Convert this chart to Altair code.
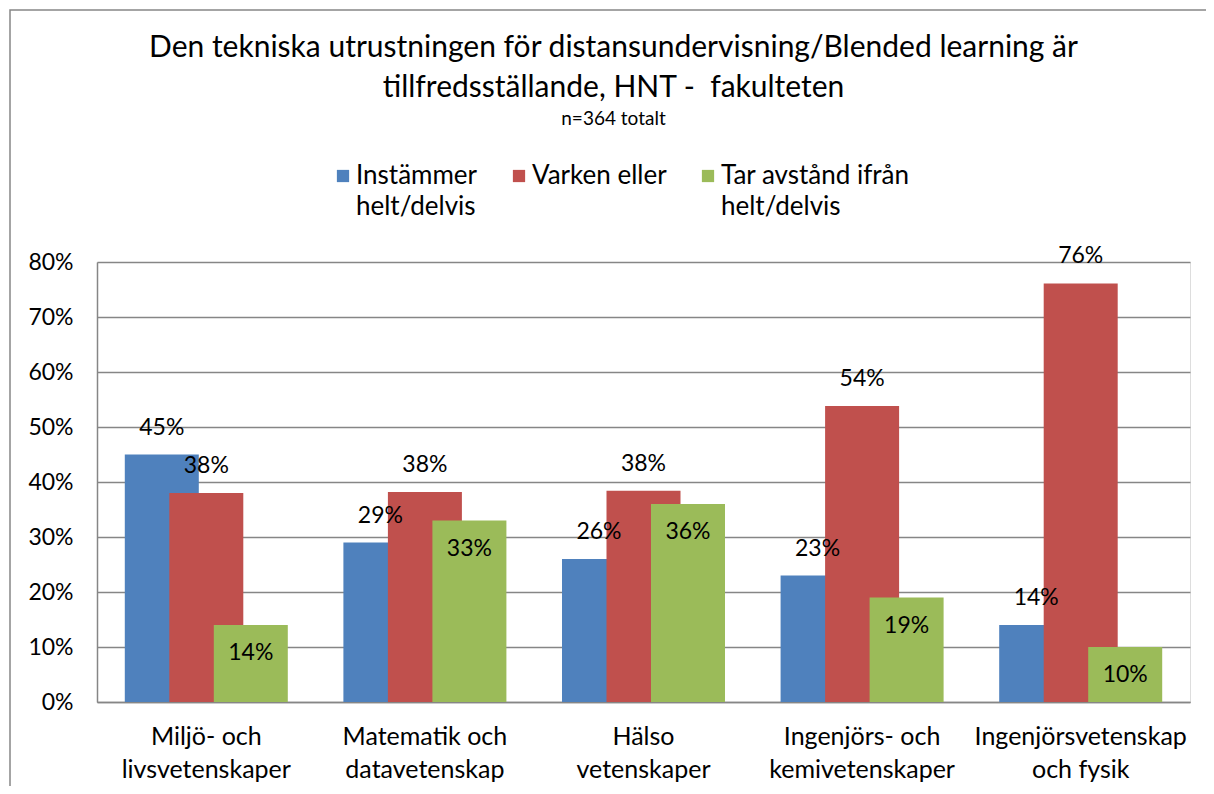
import altair as alt
import pandas as pd

categories = [
    "Miljö- och\nlivsvetenskaper",
    "Matematik och\ndatavetenskap",
    "Hälso\nvetenskaper",
    "Ingenjörs- och\nkemivetenskaper",
    "Ingenjörsvetenskap\noch fysik",
]
series = ["Instämmer helt/delvis", "Varken eller", "Tar avstånd ifrån helt/delvis"]
instammer = [0.45, 0.29, 0.26, 0.23, 0.14]
varken = [0.38, 0.382, 0.384, 0.538, 0.761]
tar_avstand = [0.14, 0.33, 0.36, 0.19, 0.10]
colors = ["#4F81BD", "#C0504D", "#9BBB59"]
y_ticks = [0, 0.1, 0.2, 0.3, 0.4, 0.5, 0.6, 0.7, 0.8]

rows = []
for si, (s, vals) in enumerate(zip(series, [instammer, varken, tar_avstand])):
    for ci, (c, v) in enumerate(zip(categories, vals)):
        rows.append({"kategori": c, "serie": s, "varde": v, "ordning": ci * 3 + si})
df = pd.DataFrame(rows).sort_values("ordning")

FONT = "Lato"
W, H = 1093, 440

x_enc = alt.X(
    "kategori:N",
    sort=categories,
    scale=alt.Scale(paddingInner=0, paddingOuter=0),
    axis=alt.Axis(
        title=None,
        labelAngle=0,
        labelExpr="split(datum.label, '\\n')",
        labelFontSize=25,
        labelLineHeight=33,
        labelPadding=22,
        labelColor="black",
        labelFont=FONT,
        ticks=False,
        domainColor="#868686",
        domainWidth=1.5,
        labelLimit=300,
    ),
)
xoff = alt.XOffset(
    "serie:N",
    sort=series,
    scale=alt.Scale(paddingInner=0, paddingOuter=0.956),
)
y_enc = alt.Y(
    "varde:Q",
    scale=alt.Scale(domain=[0, 0.8], nice=False),
    axis=alt.Axis(
        title=None,
        values=y_ticks,
        format=".0%",
        labelFontSize=23,
        labelColor="black",
        labelFont=FONT,
        labelPadding=24,
        ticks=False,
        domainColor="#868686",
        domainWidth=1.5,
        gridColor="#868686",
        gridWidth=1.5,
    ),
)

base = alt.Chart(df)

bars = base.mark_bar(width=74).encode(
    x=x_enc,
    xOffset=xoff,
    y=y_enc,
    color=alt.Color(
        "serie:N",
        sort=series,
        scale=alt.Scale(domain=series, range=colors),
        legend=alt.Legend(
            title=None,
            orient="none",
            legendX=233,
            legendY=-99,
            direction="horizontal",
            symbolType="square",
            symbolSize=150,
            symbolStrokeWidth=0,
            labelFontSize=26,
            labelFont=FONT,
            labelColor="black",
            labelLimit=400,
            labelOffset=0,
            labelBaseline="middle",
            columnPadding=28,
            labelExpr="datum.label == 'Instämmer helt/delvis' ? ['Instämmer', 'helt/delvis'] : datum.label == 'Tar avstånd ifrån helt/delvis' ? ['Tar avstånd ifrån', 'helt/delvis'] : [datum.label, '']",
        ),
    ),
    order=alt.Order("ordning:Q"),
)

labels_above = base.transform_filter(
    alt.datum.serie != series[2]
).mark_text(fontSize=23, font=FONT, color="black", dy=-27).encode(
    x=alt.X("kategori:N", sort=categories),
    xOffset=alt.XOffset("serie:N", sort=series),
    y="varde:Q",
    text=alt.Text("varde:Q", format=".0%"),
)

labels_inside = base.transform_filter(
    alt.datum.serie == series[2]
).mark_text(fontSize=23, font=FONT, color="black", dy=28).encode(
    x=alt.X("kategori:N", sort=categories),
    xOffset=alt.XOffset("serie:N", sort=series),
    y="varde:Q",
    text=alt.Text("varde:Q", format=".0%"),
)

frame = alt.Chart(pd.DataFrame({"f": [0]})).mark_rect(
    filled=False, stroke="#868686", strokeWidth=1.5
).encode(
    x=alt.value(-87), x2=alt.value(W + 200), y=alt.value(-252), y2=alt.value(H + 200)
)

chart = alt.layer(frame, bars, labels_above, labels_inside).properties(
    width=W,
    height=H,
    padding={"left": 89, "top": 254, "right": 16, "bottom": 84},
    autosize=alt.AutoSizeParams(type="none"),
    title=alt.TitleParams(
        text=[
            "Den tekniska utrustningen för distansundervisning/Blended learning är",
            "tillfredsställande, HNT - \u00a0fakulteten",
        ],
        subtitle="n=364 totalt",
        fontSize=30,
        font=FONT,
        fontWeight="normal",
        color="black",
        lineHeight=40,
        subtitleFontSize=19,
        subtitleFont=FONT,
        subtitleColor="black",
        subtitlePadding=7,
        anchor="middle",
        dx=-30,
        offset=-120,
    ),
).configure_view(fill="#F2F2F2", stroke=None).configure(
    background="white",
    style={"guide-label": {"lineHeight": 31}},
)

chart.save("out.html", embed_options={"renderer": "svg", "actions": False})
